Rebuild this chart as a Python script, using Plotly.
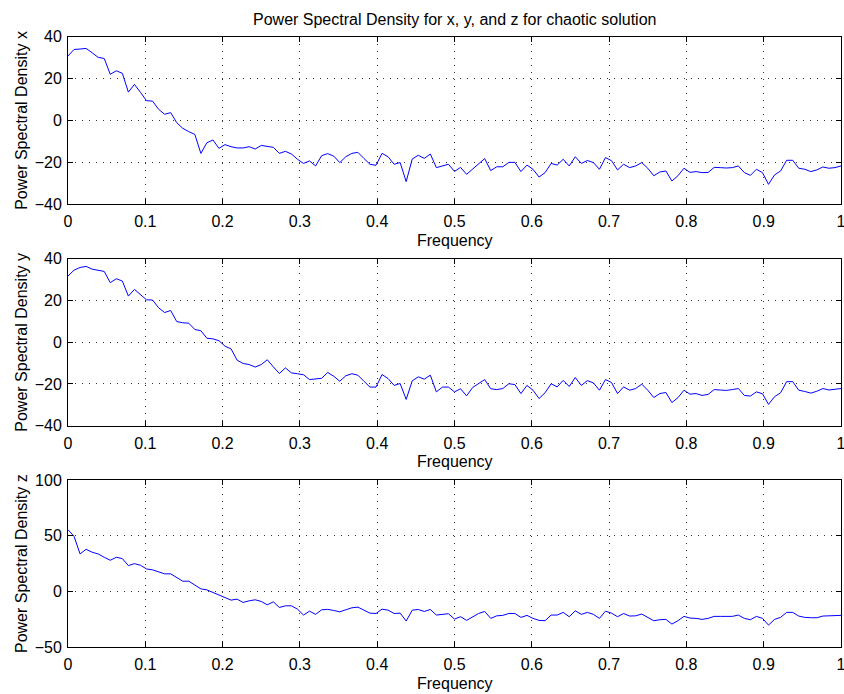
import numpy as np
import plotly.graph_objects as go

# Frequency grid (129 points from 0 to 1)
freq = np.linspace(0, 1, 129)

psd_x = [30.8, 33.9, 34.1, 34.4, 32.3, 30.1, 29.6, 22.0, 23.7, 22.5,
         13.5, 17.2, 13.4, 9.4, 9.2, 5.3, 2.9, 3.7, -1.1, -3.8,
         -5.4, -6.7, -15.8, -10.7, -9.4, -13.4, -11.6, -12.6, -13.2, -13.2,
         -12.6, -13.7, -12.0, -12.3, -12.9, -15.8, -14.8, -16.1, -18.6, -20.6,
         -19.4, -21.8, -16.9, -15.9, -17.1, -20.2, -17.4, -15.8, -15.3, -18.2,
         -21.0, -21.5, -15.8, -17.4, -21.0, -20.2, -29.3, -18.5, -16.7, -18.2,
         -16.1, -22.6, -21.7, -21.0, -24.4, -22.5, -25.8, -23.4, -20.9, -18.3,
         -24.0, -22.2, -22.2, -20.1, -20.1, -24.5, -21.4, -23.4, -27.1, -25.0,
         -20.6, -21.4, -18.6, -21.8, -17.4, -20.6, -19.2, -20.2, -23.4, -17.8,
         -19.3, -23.7, -21.0, -22.6, -21.8, -20.2, -22.9, -26.5, -24.7, -24.2,
         -29.0, -26.5, -22.9, -24.9, -24.5, -25.0, -24.9, -22.5, -22.6, -22.8,
         -22.6, -21.8, -25.0, -26.3, -23.4, -25.0, -30.6, -26.1, -24.2, -19.1,
         -19.1, -22.9, -23.4, -24.5, -23.7, -22.3, -22.9, -22.6, -21.8]

psd_y = [31.7, 34.5, 35.8, 36.3, 35.0, 34.4, 33.9, 28.5, 30.4, 29.3,
         22.1, 25.3, 22.7, 20.3, 20.2, 16.5, 14.2, 15.2, 9.9, 9.3,
         9.1, 6.1, 5.5, 1.9, 1.6, 0.7, -1.9, -3.2, -8.6, -10.2,
         -10.7, -11.9, -10.7, -8.4, -11.8, -15.0, -12.3, -14.7, -15.1, -15.6,
         -17.9, -17.5, -17.3, -14.5, -16.3, -18.7, -16.1, -15.1, -15.8, -18.7,
         -21.5, -21.5, -15.5, -17.4, -20.7, -19.8, -27.4, -18.5, -16.6, -17.7,
         -15.8, -23.8, -21.5, -21.5, -23.8, -22.3, -25.7, -21.7, -19.8, -17.9,
         -22.3, -22.7, -22.2, -19.9, -20.3, -24.6, -20.7, -23.0, -27.0, -24.2,
         -19.9, -21.4, -18.3, -21.2, -16.9, -20.7, -18.4, -19.5, -23.0, -17.9,
         -19.3, -24.6, -21.4, -23.0, -22.2, -20.1, -23.0, -26.5, -24.6, -24.1,
         -28.9, -26.6, -23.0, -24.9, -24.6, -25.5, -25.0, -22.7, -22.9, -23.1,
         -22.7, -22.2, -25.5, -25.8, -23.8, -24.7, -29.8, -26.1, -24.2, -18.9,
         -18.9, -23.0, -23.6, -24.4, -23.5, -22.2, -22.9, -22.5, -22.2]

psd_z = [55.4, 49.4, 33.6, 37.8, 35.1, 33.6, 30.6, 27.9, 30.6, 29.4,
         23.1, 24.9, 23.4, 20.1, 19.3, 17.8, 15.7, 15.7, 12.7, 9.1,
         9.1, 5.5, 2.2, 1.3, -1.1, -2.8, -5.2, -7.9, -7.0, -10.0,
         -8.5, -7.6, -9.1, -12.1, -9.4, -14.5, -13.0, -13.0, -16.0, -21.3,
         -17.8, -20.7, -16.6, -16.2, -17.2, -18.4, -16.6, -14.8, -14.2, -16.9,
         -19.6, -19.9, -16.0, -16.9, -19.9, -19.6, -26.7, -16.9, -16.3, -18.1,
         -16.3, -21.3, -20.7, -20.1, -24.9, -22.8, -26.1, -22.8, -19.9, -18.1,
         -24.3, -22.0, -21.6, -19.9, -19.9, -23.4, -21.6, -24.3, -26.1, -26.4,
         -21.3, -21.3, -18.9, -22.8, -17.5, -20.7, -18.9, -20.7, -24.3, -17.8,
         -19.6, -22.8, -19.9, -22.2, -22.0, -20.4, -23.7, -26.4, -25.5, -25.2,
         -29.4, -26.4, -22.5, -24.0, -24.3, -25.2, -24.3, -22.5, -22.5, -22.5,
         -22.5, -21.3, -24.3, -25.5, -22.5, -24.3, -30.3, -25.2, -23.4, -18.9,
         -18.9, -22.2, -23.4, -23.7, -23.7, -22.2, -22.2, -22.2, -21.6]

x_ticks = [0, 0.1, 0.2, 0.3, 0.4, 0.5, 0.6, 0.7, 0.8, 0.9, 1]
x_ticktext = ["0", "0.1", "0.2", "0.3", "0.4", "0.5", "0.6", "0.7", "0.8", "0.9", "1"]
y_ticks_xy = [-40, -20, 0, 20, 40]
y_ticktext_xy = ["\u221240", "\u221220", "0", "20", "40"]
y_ticks_z = [-50, 0, 50, 100]
y_ticktext_z = ["\u221250", "0", "50", "100"]

title_text = "Power Spectral Density for x, y, and z for chaotic solution"
x_title = "Frequency"
y_titles = ["Power Spectral Density x", "Power Spectral Density y", "Power Spectral Density z"]

W, H = 844, 694
L, R = 68, 3
PW = W - L - R
FONT = "Liberation Sans, Arial, Helvetica, sans-serif"
FS = 16

# pixel layout of panels (top, bottom)
panels = [(36.7, 204.0), (258.7, 425.7), (480.0, 647.0)]
domains = [[1 - b / H, 1 - t / H] for t, b in panels]

fig = go.Figure()
series = [psd_x, psd_y, psd_z]
for k, s in enumerate(series):
    fig.add_trace(go.Scatter(
        x=freq, y=s, mode="lines",
        line=dict(color="#0000ff", width=1),
        xaxis="x" if k == 0 else f"x{k+1}",
        yaxis="y" if k == 0 else f"y{k+1}",
        showlegend=False, hoverinfo="skip"))

common_axis = dict(
    showline=True, linecolor="black", linewidth=1, mirror="ticks",
    ticks="inside", ticklen=5, tickcolor="black", tickwidth=1,
    showgrid=True, gridcolor="#333333", gridwidth=1, griddash="1px,6px",
    zeroline=False, tickfont=dict(family=FONT, size=FS, color="black"),
    fixedrange=True, ticklabeloverflow="allow",
)

layout = dict(
    width=W, height=H,
    margin=dict(l=L, r=R, t=0, b=0, autoexpand=False),
    paper_bgcolor="white", plot_bgcolor="white",
    font=dict(family=FONT, size=FS, color="black"),
    showlegend=False,
)

for k in range(3):
    xa = "xaxis" if k == 0 else f"xaxis{k+1}"
    ya = "yaxis" if k == 0 else f"yaxis{k+1}"
    yanchor_name = "y" if k == 0 else f"y{k+1}"
    xanchor_name = "x" if k == 0 else f"x{k+1}"
    layout[xa] = dict(common_axis, domain=[0, 1], anchor=yanchor_name,
                      range=[0, 1], tickmode="array", tickvals=x_ticks,
                      ticktext=x_ticktext, ticklabelstandoff=3)
    if k < 2:
        yt, ytt, yr = y_ticks_xy, y_ticktext_xy, [-40, 40]
    else:
        yt, ytt, yr = y_ticks_z, y_ticktext_z, [-50, 100]
    layout[ya] = dict(common_axis, domain=domains[k], anchor=xanchor_name,
                      range=yr, tickmode="array", tickvals=yt, ticktext=ytt,
                      ticklabelstandoff=2)

def px_x(p):
    return (p - L) / PW

annotations = [dict(text=title_text, x=0.5, y=1 - 20 / H,
                    xref="paper", yref="paper", xanchor="center", yanchor="middle",
                    showarrow=False, font=dict(family=FONT, size=FS, color="black"))]
for k, (t, b) in enumerate(panels):
    annotations.append(dict(text=x_title, x=0.5, y=1 - (b + 36) / H,
                            xref="paper", yref="paper", xanchor="center", yanchor="middle",
                            showarrow=False, font=dict(family=FONT, size=FS, color="black")))
    annotations.append(dict(text=y_titles[k], x=px_x(21.5), y=1 - ((t + b) / 2) / H,
                            xref="paper", yref="paper", xanchor="center", yanchor="middle",
                            textangle=-90, showarrow=False,
                            font=dict(family=FONT, size=FS, color="black")))
layout["annotations"] = annotations

fig.update_layout(**layout)
fig.write_html("out.html")
